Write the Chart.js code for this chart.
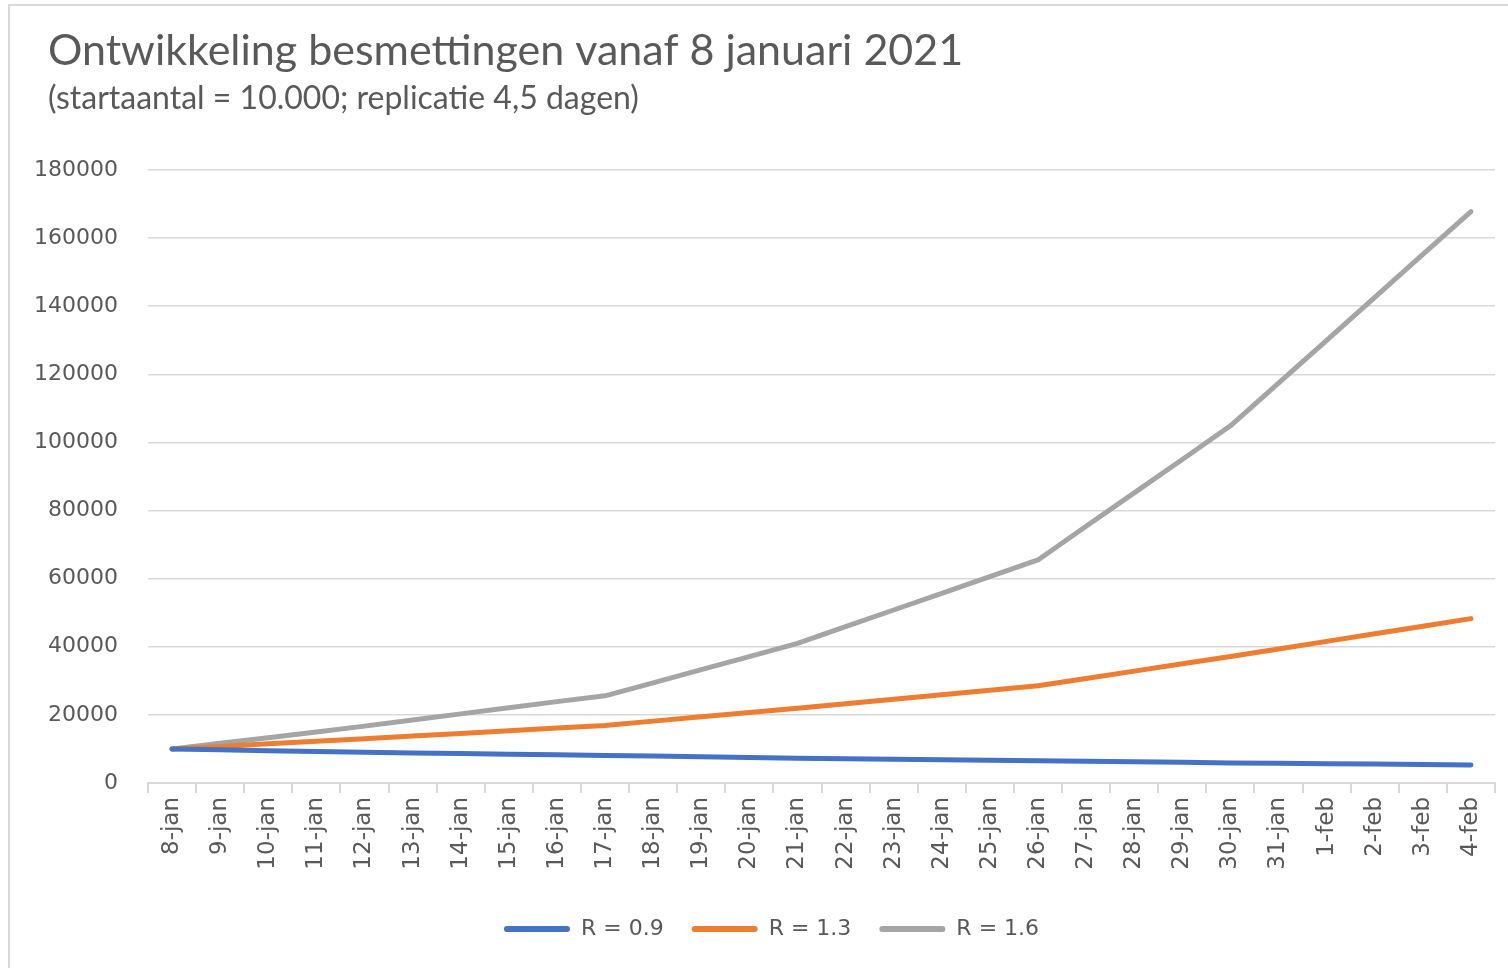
<!DOCTYPE html>
<html>
<head>
<meta charset="utf-8">
<script src="https://cdn.jsdelivr.net/npm/chart.js@4.4.1/dist/chart.umd.min.js"></script>
<style>
  html, body { margin: 0; padding: 0; background: #fff; overflow: hidden; }
  #wrap { position: relative; width: 1508px; height: 968px; }
  #frame { position: absolute; left: 8px; top: 4px; width: 1600px; height: 1100px;
           border-left: 2px solid #d9d9d9; border-top: 2px solid #d9d9d9; pointer-events: none; }
</style>
</head>
<body>
<div id="wrap">
  <canvas id="chart" width="1508" height="968"></canvas>
  <div id="frame"></div>
</div>
<script>
'use strict';

const days = ['8-jan', '9-jan', '10-jan', '11-jan', '12-jan', '13-jan', '14-jan', '15-jan',
  '16-jan', '17-jan', '18-jan', '19-jan', '20-jan', '21-jan', '22-jan', '23-jan', '24-jan',
  '25-jan', '26-jan', '27-jan', '28-jan', '29-jan', '30-jan', '31-jan', '1-feb', '2-feb',
  '3-feb', '4-feb'];

const seriesNames = ['R = 0.9', 'R = 1.3', 'R = 1.6'];

const r09 = [10000, 9750, 9500, 9250, 9000, 8820, 8640, 8460, 8280, 8100, 7900, 7700, 7500, 7300,
  7150, 7000, 6850, 6700, 6560, 6400, 6230, 6070, 5900, 5790, 5670, 5550, 5430, 5310];
const r13 = [10000, 10750, 11500, 12250, 13000, 13780, 14560, 15340, 16120, 16900, 18170, 19440,
  20700, 21970, 23290, 24610, 25930, 27240, 28560, 30700, 32850, 34990, 37130, 39360, 41590,
  43810, 46040, 48270];
const r16 = [10000, 11700, 13300, 15000, 16700, 18500, 20300, 22100, 23900, 25600, 29400, 33300,
  37100, 41000, 45900, 50800, 55700, 60600, 65500, 75400, 85200, 95000, 104900, 117400, 130000,
  142600, 155200, 167800];

const yMax = 180000;
const yStep = 20000;

const colors = ['#4472C4', '#ED7D31', '#A5A5A5'];
const textColor = '#595959';
const gridColor = '#d9d9d9';

function makeSet(i, values) {
  return {
    label: seriesNames[i],
    data: values,
    borderColor: colors[i],
    backgroundColor: colors[i],
    borderWidth: 5,
    pointRadius: 0,
    tension: 0,
    borderCapStyle: 'round',
    borderJoinStyle: 'round'
  };
}

// title, subtitle and legend start at x=48, while the y axis keeps the full left strip
const indentBoxes = {
  id: 'indentBoxes',
  afterLayout: function (chart) {
    chart.boxes.forEach(function (b) {
      if (b.position === 'top' && b.options && b.options.text !== undefined) {
        b.left = 48;
      }
    });
    if (chart.legend) chart.legend.left = 48;
  }
};

new Chart(document.getElementById('chart'), {
  type: 'line',
  data: {
    labels: days,
    datasets: [makeSet(0, r09), makeSet(1, r13), makeSet(2, r16)]
  },
  plugins: [indentBoxes],
  options: {
    responsive: false,
    devicePixelRatio: 1,
    animation: false,
    layout: { padding: { top: 25, right: 13, bottom: 18, left: 0 } },
    plugins: {
      title: {
        display: true,
        text: 'Ontwikkeling besmettingen vanaf 8 januari 2021',
        align: 'start',
        color: textColor,
        font: { family: 'Lato', size: 43, weight: 'normal', lineHeight: 1.2 },
        padding: { top: 0, bottom: 0 }
      },
      subtitle: {
        display: true,
        text: '(startaantal = 10.000; replicatie 4,5 dagen)',
        align: 'start',
        color: textColor,
        font: { family: 'Lato', size: 32, weight: 'normal', lineHeight: 1.2 },
        padding: { top: 3, bottom: 52 }
      },
      legend: {
        position: 'bottom',
        labels: {
          color: textColor,
          font: { family: 'DejaVu Sans', size: 22 },
          boxWidth: 66,
          boxHeight: 6,
          useBorderRadius: true,
          borderRadius: 3,
          padding: 28,
          generateLabels: function (chart) {
            const items = Chart.defaults.plugins.legend.labels.generateLabels(chart);
            items.forEach(function (it) { it.lineWidth = 0; });
            return items;
          }
        }
      },
      tooltip: { enabled: false }
    },
    scales: {
      x: {
        offset: true,
        grid: { offset: true, drawOnChartArea: false, drawTicks: true, tickLength: 10, color: gridColor, lineWidth: 2 },
        border: { color: gridColor, width: 2 },
        ticks: {
          color: textColor,
          font: { family: 'DejaVu Sans', size: 23 },
          minRotation: 90,
          maxRotation: 90,
          autoSkip: false,
          padding: 4
        },
        afterFit: function (scale) { scale.height = 107; }
      },
      y: {
        min: 0,
        max: yMax,
        grid: { drawTicks: false, color: gridColor, lineWidth: 1.5 },
        border: { display: false },
        ticks: {
          stepSize: yStep,
          color: textColor,
          font: { family: 'DejaVu Sans', size: 22 },
          padding: 30,
          callback: function (value) { return String(value); }
        },
        afterFit: function (scale) { scale.width = 148; }
      }
    }
  }
});
</script>
</body>
</html>
